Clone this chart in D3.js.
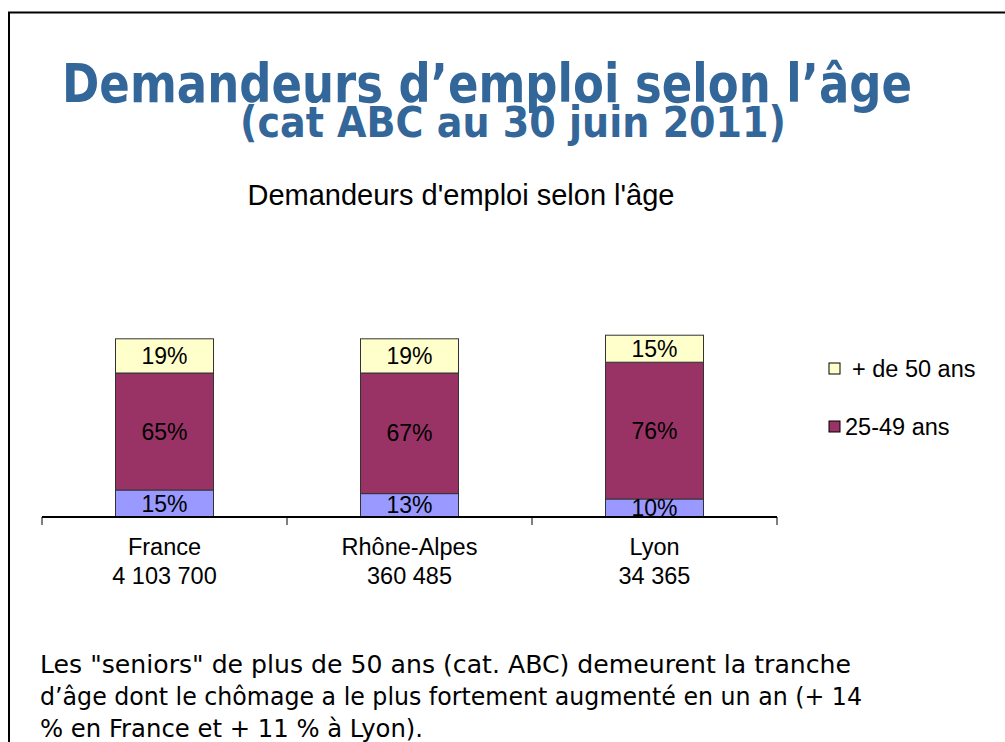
<!doctype html>
<html>
<head>
<meta charset="utf-8">
<script src="https://cdn.jsdelivr.net/npm/d3@7"></script>
<style>
  body { margin: 0; background: #fff; }
  svg { display: block; }
  .lbl { font-family: "Liberation Sans", Arial, sans-serif; fill: #000; }
  .tahoma { font-family: "DejaVu Sans", Verdana, sans-serif; }
</style>
</head>
<body>
<svg id="chart" width="1005" height="742"></svg>
<script>
// data
var categories = ["France", "Rhône-Alpes", "Lyon"];
var totals = ["4 103 700", "360 485", "34 365"];
var moins25 = [15, 13, 10];   // bottom segment
var de25a49 = [65, 67, 76];
var plus50 = [19, 19, 15];
var seriesKeys = ["moins25", "de25a49", "plus50"];
var seriesColors = ["#9999ff", "#993366", "#ffffcc"];
var legendNames = ["+ de 50 ans", "25-49 ans"];
var legendKeys = ["plus50", "de25a49"];
var noteLines = [
  "Les \"seniors\" de plus de 50 ans (cat. ABC) demeurent la tranche",
  "d’âge dont le chômage a le plus fortement augmenté en un an (+ 14",
  "% en France et + 11 % à Lyon)."
];

var svg = d3.select("#chart");

// slide frame (left and top edges)
svg.append("path")
  .attr("d", "M9,742 V12.5 H1005")
  .attr("fill", "none")
  .attr("stroke", "#000")
  .attr("stroke-width", 2);

// slide title
svg.append("text").attr("class", "tahoma")
  .attr("x", 62).attr("y", 102)
  .attr("font-size", 54).attr("font-weight", "bold").attr("fill", "#336699")
  .attr("textLength", 850).attr("lengthAdjust", "spacingAndGlyphs")
  .text("Demandeurs d’emploi selon l’âge");
svg.append("text").attr("class", "tahoma")
  .attr("x", 240).attr("y", 137)
  .attr("font-size", 43).attr("font-weight", "bold").attr("fill", "#336699")
  .attr("textLength", 546).attr("lengthAdjust", "spacingAndGlyphs")
  .text("(cat ABC au 30 juin 2011)");

// chart title
svg.append("text").attr("class", "lbl")
  .attr("x", 461).attr("y", 205)
  .attr("text-anchor", "middle")
  .attr("font-size", 29)
  .text("Demandeurs d'emploi selon l'âge");

var table = categories.map(function(c, i) {
  return { cat: c, moins25: moins25[i], de25a49: de25a49[i], plus50: plus50[i] };
});

var x = d3.scaleBand().domain(categories).range([42, 777])
  .paddingInner(0.6).paddingOuter(0.3);
var y = d3.scaleLinear().domain([0, 100]).range([517, 337]);
var color = d3.scaleOrdinal().domain(seriesKeys).range(seriesColors);

var stacked = d3.stack().keys(seriesKeys)(table);

svg.append("clipPath").attr("id", "plotclip")
  .append("rect").attr("x", 0).attr("y", 0).attr("width", 1005).attr("height", y(0));

var layers = svg.selectAll("g.layer")
  .data(stacked)
  .enter().append("g")
  .attr("class", "layer")
  .attr("fill", function(d) { return color(d.key); });

layers.selectAll("rect")
  .data(function(d) { return d; })
  .enter().append("rect")
  .attr("x", function(d) { return x(d.data.cat); })
  .attr("y", function(d) { return y(d[1]); })
  .attr("width", x.bandwidth())
  .attr("height", function(d) { return y(d[0]) - y(d[1]); })
  .attr("stroke", "#333")
  .attr("stroke-width", 1);

// value labels, clipped at the axis like the original
svg.append("g").attr("clip-path", "url(#plotclip)")
  .selectAll("g")
  .data(stacked)
  .enter().append("g")
  .selectAll("text")
  .data(function(d) { return d; })
  .enter().append("text")
  .attr("class", "lbl")
  .attr("x", function(d) { return x(d.data.cat) + x.bandwidth() / 2; })
  .attr("y", function(d) { return (y(d[0]) + y(d[1])) / 2 + 8; })
  .attr("text-anchor", "middle")
  .attr("font-size", 23)
  .text(function(d) { return (d[1] - d[0]) + "%"; });

// category axis
var step = x.step();
var gap = (step - x.bandwidth()) / 2;
var tickPos = categories.map(function(c) { return x(c) - gap; });
tickPos.push(x(categories[categories.length - 1]) + x.bandwidth() + gap);

svg.append("line")
  .attr("x1", tickPos[0]).attr("x2", tickPos[tickPos.length - 1])
  .attr("y1", y(0)).attr("y2", y(0))
  .attr("stroke", "#000").attr("stroke-width", 2);

svg.selectAll("line.tick")
  .data(tickPos)
  .enter().append("line")
  .attr("class", "tick")
  .attr("x1", function(d) { return d; }).attr("x2", function(d) { return d; })
  .attr("y1", y(0)).attr("y2", y(0) + 8)
  .attr("stroke", "#000").attr("stroke-width", 1);

var catLabels = svg.selectAll("text.cat")
  .data(categories)
  .enter().append("text")
  .attr("class", "lbl cat")
  .attr("text-anchor", "middle")
  .attr("font-size", 23.5)
  .attr("x", function(d) { return x(d) + x.bandwidth() / 2; });
catLabels.append("tspan")
  .attr("x", function(d) { return x(d) + x.bandwidth() / 2; })
  .attr("y", 555)
  .text(function(d) { return d; });
catLabels.append("tspan")
  .attr("x", function(d) { return x(d) + x.bandwidth() / 2; })
  .attr("y", 584)
  .text(function(d, i) { return totals[i]; });

// legend
var legend = svg.selectAll("g.leg")
  .data(legendKeys)
  .enter().append("g")
  .attr("class", "leg")
  .attr("transform", function(d, i) { return "translate(829," + (363 + i * 58) + ")"; });
legend.append("rect")
  .attr("width", 11).attr("height", 11)
  .attr("fill", function(d) { return color(d); })
  .attr("stroke", "#000").attr("stroke-width", 1);
legend.append("text")
  .attr("class", "lbl")
  .attr("x", function(d, i) { return i === 0 ? 23 : 16; })
  .attr("y", 14)
  .attr("font-size", 23.5)
  .text(function(d, i) { return legendNames[i]; });

// comment below the chart
svg.selectAll("text.note")
  .data(noteLines)
  .enter().append("text")
  .attr("class", "tahoma note")
  .attr("x", 40)
  .attr("y", function(d, i) { return 673 + i * 32; })
  .attr("font-size", 24.5)
  .attr("fill", "#000")
  .attr("textLength", function(d, i) { return [811, 822, 383][i]; })
  .attr("lengthAdjust", "spacingAndGlyphs")
  .text(function(d) { return d; });
</script>
</body>
</html>
